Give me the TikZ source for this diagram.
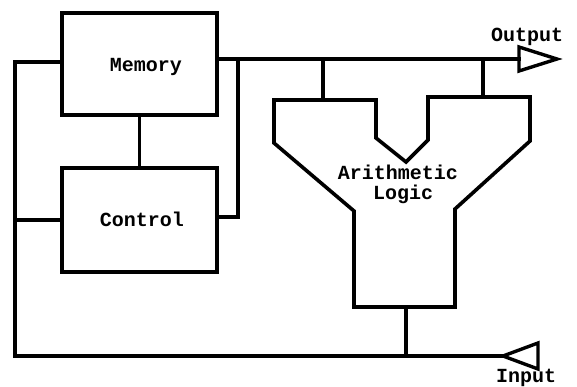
\documentclass[tikz,border=0pt]{standalone}
\usepackage{fontspec}
\setmonofont{Liberation Mono}
\begin{document}
\begin{tikzpicture}[x=1pt,y=-1pt,
  wire/.style={line width=3.6pt,line join=miter,line cap=rect},
  unit/.style={draw,line width=3.6pt,minimum width=155pt,inner sep=0pt},
  lbl/.style={font=\ttfamily\bfseries\fontsize{20}{22}\selectfont,inner sep=0pt},
  port/.style={line width=3.4pt,line join=miter}]
\useasboundingbox (0,0) rectangle (577,387);
% boxes
\node[unit,minimum height=102pt] (mem) at (139.5,64) {};
\node[unit,minimum height=104pt] (ctl) at (139.5,220) {};
\node[lbl] (memt) at (146,67) {Memory};
\node[lbl] (ctlt) at (142,219) {Control};
% ALU shape
\coordinate (aluL) at (323,100);
\coordinate (aluR) at (483,97);
\coordinate (aluB) at (406,307);
\draw[wire,line cap=butt] (274,100) -- (376,100) -- (376,138) -- (406,162) -- (428,140) -- (428,97)
  -- (530,97) -- (530,141) -- (455,209) -- (455,307) -- (354,307) -- (354,211) -- (274,143) -- cycle;
\node[lbl] (alut1) at (398,172) {Arithmetic};
\node[lbl] (alut2) at (403,194) {Logic};
% ports
\coordinate (outB) at (519,59);
\coordinate (inT) at (503,356);
\draw[port] (outB) -- ++(0,-12) -- (557,59) -- (519,71) -- cycle;
\draw[port] (inT) -- (538,343) -- (538,369) -- cycle;
\node[lbl] (outt) at (527,37) {Output};
\node[lbl] (int) at (526,378) {Input};
% wires
\coordinate (jr) at (238,59);
\coordinate (jl) at (15,62);
\coordinate (jb) at (15,356);
\draw[wire] (mem.east |- jr) -- (outB);
\draw[wire] (jr) |- (ctl.east |- 0,217);
\draw[wire] (aluL |- jr) -- (aluL);
\draw[wire] (aluR |- jr) -- (aluR);
\draw[wire] (mem.south) -- (ctl.north);
\draw[wire] (mem.west |- jl) -- (jl) -- (jb) -- (inT);
\draw[wire] (jl |- 0,220) -- (ctl.west |- 0,220);
\draw[wire] (aluB) -- (aluB |- jb);
\end{tikzpicture}
\end{document}
